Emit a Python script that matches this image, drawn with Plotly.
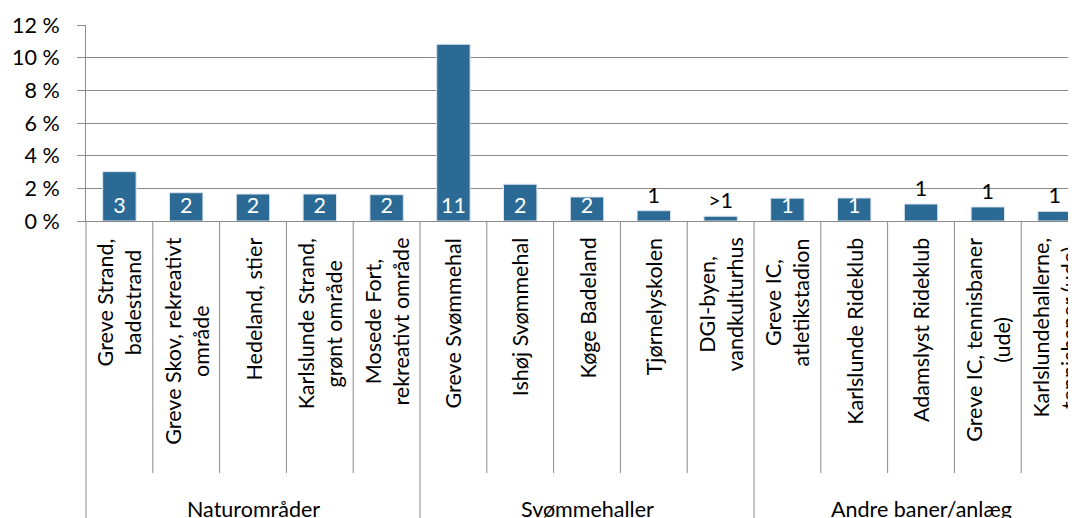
import plotly.graph_objects as go

# ---- data ----
groups = ["Naturområder", "Svømmehaller", "Andre baner/anlæg"]
group_sizes = [5, 5, 5]
categories = [
    "Greve Strand,<br>badestrand",
    "Greve Skov, rekreativt<br>område",
    "Hedeland, stier",
    "Karlslunde Strand,<br>grønt område",
    "Mosede Fort,<br>rekreativt område",
    "Greve Svømmehal",
    "Ishøj Svømmehal",
    "Køge Badeland",
    "Tjørnelyskolen",
    "DGI-byen,<br>vandkulturhus",
    "Greve IC,<br>atletikstadion",
    "Karlslunde Rideklub",
    "Adamslyst Rideklub",
    "Greve IC, tennisbaner<br>(ude)",
    "Karlslundehallerne,<br>tennisbaner (ude)",
]
values = [3.02, 1.73, 1.65, 1.65, 1.61,
          10.82, 2.25, 1.47, 0.63, 0.29,
          1.40, 1.41, 1.04, 0.86, 0.59]
labels = ["3", "2", "2", "2", "2",
          "11", "2", "2", "1", ">1",
          "1", "1", "1", "1", "1"]
label_inside = [True, True, True, True, True,
                True, True, True, False, False,
                True, True, False, False, False]
y_tick_values = [0, 2, 4, 6, 8, 10, 12]
y_tick_labels = ["0 %", "2 %", "4 %", "6 %", "8 %", "10 %", "12 %"]

FONT = "Lato"
FS = 21.5
GRAY = "#8a8a8a"
BAR = "#2a6a94"

fig = go.Figure()
fig.add_trace(go.Bar(
    x=categories, y=values,
    marker=dict(color=BAR, line=dict(color="#d9e4ee", width=1)),
    width=0.5,
    text=labels,
    textangle=0,
    textposition=["inside" if t else "outside" for t in label_inside],
    insidetextanchor="start",
    insidetextfont=dict(color="white", family=FONT, size=FS),
    outsidetextfont=dict(color="black", family=FONT, size=FS),
    constraintext="none",
    cliponaxis=False,
    hoverinfo="skip",
))

n = len(categories)
annotations = []
for i, c in enumerate(categories):
    annotations.append(dict(
        x=i, y=0, xref="x", yref="y", text=c, showarrow=False,
        textangle=-90, align="center", xanchor="center", yanchor="top",
        yshift=-15, font=dict(family=FONT, size=FS, color="black"),
    ))

shapes = []
start = 0
group_bounds = set()
for g, size in zip(groups, group_sizes):
    center = start + (size - 1) / 2
    annotations.append(dict(
        x=center, y=0, xref="x", yref="y", text=g, showarrow=False,
        xanchor="center", yanchor="middle", yshift=-288,
        font=dict(family=FONT, size=FS, color="black"),
    ))
    group_bounds.add(start)
    start += size
group_bounds.add(start)

for b in range(0, n + 1):
    if b == 0:
        shapes.append(dict(type="line", xref="x domain", yref="paper",
                           x0=0, x1=0, y0=0, y1=-1.6,
                           line=dict(color=GRAY, width=1)))
        continue
    y1 = -1.6 if b in group_bounds else -252 / 196
    shapes.append(dict(type="line", xref="x", yref="paper",
                       x0=b - 0.5, x1=b - 0.5, y0=0, y1=y1,
                       line=dict(color=GRAY, width=1)))

# page body has an 8px default margin; size the figure so the plot lands
# on the same page pixels as the reference
fig.update_layout(
    width=1068, height=510,
    margin=dict(l=78, r=0, t=17, b=297),
    template="none",
    paper_bgcolor="white", plot_bgcolor="white",
    showlegend=False,
    bargap=0.5,
    font=dict(family=FONT, size=FS, color="black"),
    xaxis=dict(
        type="category", range=[-0.5, 14.32],
        showticklabels=False, ticks="", showgrid=False,
        showline=True, linecolor=GRAY, linewidth=1, zeroline=False,
    ),
    yaxis=dict(
        range=[0, 12], tickmode="array",
        tickvals=y_tick_values, ticktext=y_tick_labels,
        ticks="outside", ticklen=8, tickcolor=GRAY, tickwidth=1,
        showgrid=True, gridcolor=GRAY, gridwidth=1,
        showline=True, linecolor=GRAY, linewidth=1, zeroline=False,
        ticklabelstandoff=13,
        tickfont=dict(family=FONT, size=FS, color="black"),
    ),
    annotations=annotations,
    shapes=shapes,
)

fig.write_html("out.html")
